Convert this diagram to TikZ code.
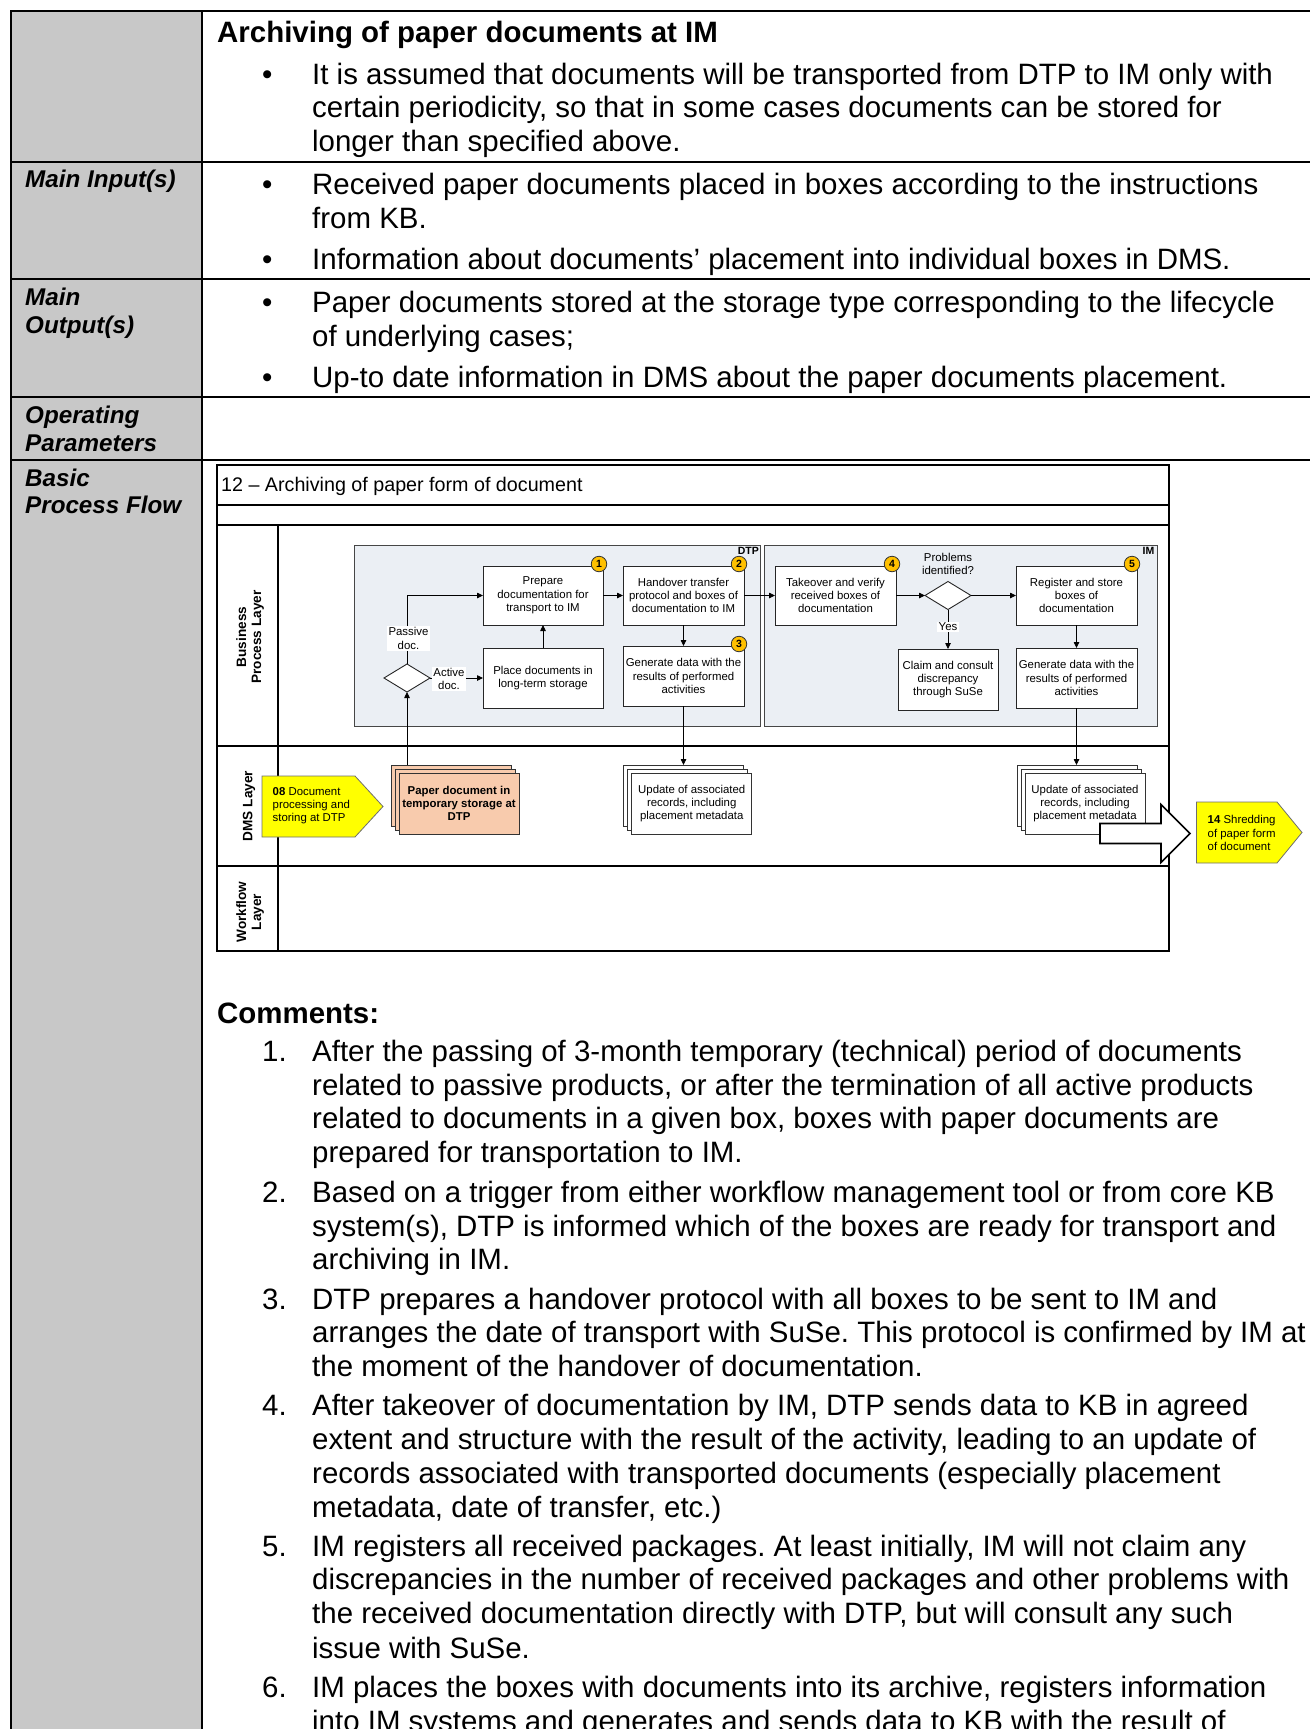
\documentclass[tikz,border=0pt]{standalone}
\usepackage{fontspec}
\setmainfont{Liberation Sans}
\usetikzlibrary{arrows.meta,shapes.geometric,calc}
\frenchspacing

\definecolor{colgray}{RGB}{200,200,200}
\definecolor{poolfill}{RGB}{235,239,244}
\definecolor{poolline}{RGB}{70,70,70}
\definecolor{badgefill}{RGB}{255,192,0}
\definecolor{peach}{RGB}{248,203,173}
\definecolor{tagline}{RGB}{110,110,110}
\definecolor{tagfill}{RGB}{255,255,0}

\newcommand\bodyfont{\fontsize{29.45}{33.7}\selectfont}
\newcommand\labfont{\fontsize{24.2}{27.6}\selectfont\bfseries\itshape}
\newcommand\diafont{\fontsize{11.4}{13.3}\selectfont}
\newcommand\lanefont{\fontsize{13.6}{15}\selectfont\bfseries}

\begin{document}
\begin{tikzpicture}[x=1pt,y=-1pt,
  tline/.style={line width=2.2pt},
  frame/.style={line width=1.2pt, draw=black},
  pool/.style={fill=poolfill, draw=poolline, line width=0.9pt},
  proc/.style={draw=black!85, fill=white, line width=0.9pt, align=center,
    font=\diafont, inner sep=1pt, outer sep=0pt},
  page/.style={draw=black!80, line width=0.8pt, minimum width=120pt,
    minimum height=61pt, align=center, font=\diafont, inner sep=1pt, outer sep=0pt},
  dec/.style={diamond, draw=black!85, fill=white, line width=0.9pt,
    minimum width=46pt, minimum height=28pt, aspect=1.64, inner sep=0pt, outer sep=0pt},
  arr/.style={line width=0.8pt, -{Triangle[length=6pt,width=5.5pt]}},
  badge/.style={circle, fill=badgefill, draw=black!80, line width=0.8pt,
    minimum size=15.5pt, inner sep=0pt, font=\fontsize{10.5}{11}\selectfont\bfseries},
  lbl/.style={fill=white, align=center, font=\diafont, inner sep=1.5pt},
  tagshape/.style={fill=tagfill, draw=tagline, line width=0.8pt},
  body/.style={anchor=base west, inner sep=0pt, font=\bodyfont},
  lab/.style={anchor=base west, inner sep=0pt, font=\labfont},
  lane/.style={rotate=90, align=center, font=\lanefont, inner sep=0pt}]

\useasboundingbox (0,0) rectangle (1309,1729);

% ---------- table frame ----------
\fill[colgray] (11,11) rectangle (202,1745);
\draw[tline] (11,1745) -- (11,11) -- (1320,11);
\draw[tline] (202,11) -- (202,1745);
\foreach \yy in {162,279,397,460} \draw[tline] (11,\yy) -- (1320,\yy);

% ---------- left column labels ----------
\node[lab] (lin) at (25,187.5) {Main Input(s)};
\node[lab] (lout1) at (25,305.3) {Main};
\node[lab] (lout2) at (25,333) {Output(s)};
\node[lab] (lop1) at (25,423.4) {Operating};
\node[lab] (lop2) at (25,451) {Parameters};
\node[lab] (lbf1) at (25,486) {Basic};
\node[lab] (lbf2) at (25,513.8) {Process Flow};

% ---------- header rows ----------
\node[body, font=\bodyfont\bfseries] (head) at (217,42.5) {Archiving of paper documents at IM};
\node[body] (bu1) at (262,84.4) {•};
\node[body] (r1a) at (312,84.4) {It is assumed that documents will be transported from DTP to IM only with};
\node[body] (r1b) at (312,117.9) {certain periodicity, so that in some cases documents can be stored for};
\node[body] (r1c) at (312,151.6) {longer than specified above.};

\node[body] (bu2) at (262,194.7) {•};
\node[body] (r2a) at (312,194.7) {Received paper documents placed in boxes according to the instructions};
\node[body] (r2b) at (312,228.6) {from KB.};
\node[body] (bu3) at (262,269.7) {•};
\node[body] (r2c) at (312,269.7) {Information about documents’ placement into individual boxes in DMS.};

\node[body] (bu4) at (262,312.7) {•};
\node[body] (r3a) at (312,312.7) {Paper documents stored at the storage type corresponding to the lifecycle};
\node[body] (r3b) at (312,346.2) {of underlying cases;};
\node[body] (bu5) at (262,387.7) {•};
\node[body] (r3c) at (312,387.7) {Up-to date information in DMS about the paper documents placement.};

% ---------- process diagram: frame and lanes ----------
\draw[frame] (217,465) rectangle (1169,951);
\foreach \yy in {505,525,746,866} \draw[frame] (217,\yy) -- (1169,\yy);
\draw[frame] (278,525) -- (278,951);
\node[anchor=base west, inner sep=0pt, font=\fontsize{19.7}{22}\selectfont] (dtitle) at (221,491.5)
  {12 – Archiving of paper form of document};

\node[lane] (lnbp) at (250,637) {Business\\Process Layer};
\node[lane] (lndms) at (249,806) {DMS Layer};
\node[lane] (lnwf) at (250,912) {Workflow\\Layer};

% pools
\draw[pool] (354,545) rectangle (760,726);
\draw[pool] (764,545) rectangle (1157,726);
\node[anchor=north east, inner sep=0.5pt, font=\fontsize{10.5}{11}\selectfont\bfseries] (pdtp) at (759.5,546.5) {DTP};
\node[anchor=north east, inner sep=0.5pt, font=\fontsize{10.5}{11}\selectfont\bfseries] (pim) at (1155,546.5) {IM};

% DTP activities
\node[proc, minimum width=120pt, minimum height=59pt] (n1) at (543,595.5) {Prepare\\documentation for\\transport to IM};
\node[proc, minimum width=121pt, minimum height=59pt] (n2) at (683.5,595.5) {Handover transfer\\protocol and boxes of\\documentation to IM};
\node[proc, minimum width=121pt, minimum height=60pt] (n3) at (683.5,676) {Generate data with the\\results of performed\\activities};
\node[proc, minimum width=120pt, minimum height=60pt] (n4) at (543,678) {Place documents in\\long-term storage};
\node[dec] (d1) at (407,678) {};

% IM activities
\node[proc, minimum width=121pt, minimum height=59pt] (n5) at (835.5,595.5) {Takeover and verify\\received boxes of\\documentation};
\node[dec] (d2) at (948,595.5) {};
\node[proc, minimum width=121pt, minimum height=59pt] (n6) at (1076.5,595.5) {Register and store\\boxes of\\documentation};
\node[proc, minimum width=100pt, minimum height=61pt] (n7) at (948,679.5) {Claim and consult\\discrepancy\\through SuSe};
\node[proc, minimum width=121pt, minimum height=60pt] (n8) at (1076.5,678) {Generate data with the\\results of performed\\activities};
\node[align=center, font=\diafont, inner sep=0pt] (qprob) at (948,564) {Problems\\identified?};

% DMS lane: document stacks
\node[page, fill=peach] (ps3) at (451,795.5) {};
\node[page, fill=peach] (ps2) at (455,799.5) {};
\node[page, fill=peach, font=\diafont\bfseries] (ps1) at (459,803.5) {Paper document in\\temporary storage at\\DTP};

\node[page, fill=white] (ua3) at (683.75,795.5) {};
\node[page, fill=white] (ua2) at (687.75,799.5) {};
\node[page, fill=white] (ua1) at (691.75,803.5) {Update of associated\\records, including\\placement metadata};

\node[page, fill=white] (ub3) at (1077,795.5) {};
\node[page, fill=white] (ub2) at (1081,799.5) {};
\node[page, fill=white] (ub1) at (1085,803.5) {Update of associated\\records, including\\placement metadata};

% connectors
\draw[arr] (d1.north) |- (n1.west);
\draw[arr] (d1.east) -- (n4.west);
\draw[arr] (n4.north) -- (n1.south);
\draw[arr] (n1.east) -- (n2.west);
\draw[arr] (n2.south) -- (n3.north);
\draw[arr] (n2.east) -- (n5.west);
\draw[arr] (n5.east) -- (d2.west);
\draw[arr] (d2.east) -- (n6.west);
\draw[arr] (d2.south) -- (n7.north);
\draw[arr] (n6.south) -- (n8.north);
\draw[arr] (n3.south) -- (n3.south |- ua3.north);
\draw[arr] (n8.south) -- (n8.south |- ub3.north);
\draw[arr] (d1.south |- ps3.north) -- (d1.south);

% connector labels
\node[lbl] (lpass) at (408.5,638.5) {Passive\\doc.};
\node[lbl] (lact) at (449,679) {Active\\doc.};
\node[lbl] (lyes) at (948,627) {Yes};

% step badges
\node[badge] (b1) at (599,564) {1};
\node[badge] (b2) at (739,564) {2};
\node[badge] (b3) at (739,644) {3};
\node[badge] (b4) at (892,564) {4};
\node[badge] (b5) at (1132,564) {5};

% process links (off-page)
\draw[tagshape] (262,776) -- (355,776) -- (383,806.5) -- (355,837) -- (262,837) -- cycle;
\node[anchor=west, align=left, font=\diafont, inner sep=0pt] (tag08) at (272.5,805.5)
  {\textbf{08} Document\\processing and\\storing at DTP};
\draw[tagshape] (1196.5,802) -- (1277,802) -- (1302,832.5) -- (1277,863) -- (1196.5,863) -- cycle;
\node[anchor=west, align=left, font=\diafont, inner sep=0pt] (tag14) at (1207.5,833)
  {\textbf{14} Shredding\\of paper form\\of document};

% block arrow to the next process
\draw[line width=1.6pt, fill=white, line join=miter]
  (1100,823.5) -- (1161,823.5) -- (1161,804.5) -- (1190,833.5) -- (1161,862.5)
  -- (1161,843.5) -- (1100,843.5) -- cycle;

% ---------- comments ----------
\node[body, font=\bodyfont\bfseries] (chead) at (217,1023) {Comments:};

\node[body] (c1n) at (262,1061.5) {1.};
\node[body] (c1a) at (312,1061.5) {After the passing of 3-month temporary (technical) period of documents};
\node[body] (c1b) at (312,1095.5) {related to passive products, or after the termination of all active products};
\node[body] (c1c) at (312,1128.9) {related to documents in a given box, boxes with paper documents are};
\node[body] (c1d) at (312,1162.8) {prepared for transportation to IM.};

\node[body] (c2n) at (262,1202.6) {2.};
\node[body] (c2a) at (312,1202.6) {Based on a trigger from either workflow management tool or from core KB};
\node[body] (c2b) at (312,1236) {system(s), DTP is informed which of the boxes are ready for transport and};
\node[body] (c2c) at (312,1269.8) {archiving in IM.};

\node[body] (c3n) at (262,1309.6) {3.};
\node[body] (c3a) at (312,1309.6) {DTP prepares a handover protocol with all boxes to be sent to IM and};
\node[body] (c3b) at (312,1342.9) {arranges the date of transport with SuSe. This protocol is confirmed by IM at};
\node[body] (c3c) at (312,1376) {the moment of the handover of documentation.};

\node[body] (c4n) at (262,1415.5) {4.};
\node[body] (c4a) at (312,1415.5) {After takeover of documentation by IM, DTP sends data to KB in agreed};
\node[body] (c4b) at (312,1449.6) {extent and structure with the result of the activity, leading to an update of};
\node[body] (c4c) at (312,1483.6) {records associated with transported documents (especially placement};
\node[body] (c4d) at (312,1517) {metadata, date of transfer, etc.)};

\node[body] (c5n) at (262,1556.6) {5.};
\node[body] (c5a) at (312,1556.6) {IM registers all received packages. At least initially, IM will not claim any};
\node[body] (c5b) at (312,1589.8) {discrepancies in the number of received packages and other problems with};
\node[body] (c5c) at (312,1623.8) {the received documentation directly with DTP, but will consult any such};
\node[body] (c5d) at (312,1658) {issue with SuSe.};

\node[body] (c6n) at (262,1697.8) {6.};
\node[body] (c6a) at (312,1697.8) {IM places the boxes with documents into its archive, registers information};
\node[body] (c6b) at (312,1731.5) {into IM systems and generates and sends data to KB with the result of};

\end{tikzpicture}
\end{document}
